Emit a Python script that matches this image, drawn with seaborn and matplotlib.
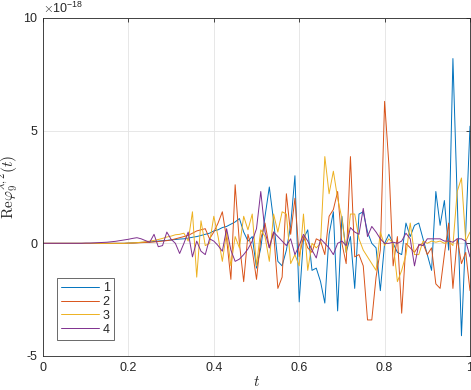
import numpy as np
import pandas as pd
import matplotlib
matplotlib.use("Agg")
import matplotlib.pyplot as plt
import seaborn as sns

# time grid (0 .. 1, step 0.01)
t = np.linspace(0, 1, 101)

# values in units of 1e-18
s1 = [0, 0, 0, 0, 0, 0, 0, 0, 0, 0,
      0, 0, 0, 0, 0, 0, 0, 0, 0, 0,
      0.01, 0.02, 0.03, 0.04, 0.05, 0.06, 0.08, 0.1, 0.12, 0.13,
      0.15, 0.17, 0.19, 0.2, 0.23, 0.27, 0.3, 0.35, 0.4, 0.45,
      0.55, 0.6, 0.7, 0.75, 0.85, 0.95, 1.1, 0.5, 0.1, 0.3,
      -1.1, -0.2, 1.2, 2.5, 1.0, -0.8, -1.0, -0.3, 0.8, 3.0,
      -2.6, 0.2, 0.6, -1.2, -1.1, -1.7, -2.65, 0.4, 1.4, -3.0,
      1.2, -0.4, 0.3, -2.0, 1.3, 1.4, 0.5, 0.0, -0.2, -2.1,
      0.0, 0.4, 0.0, -0.4, -0.5, 0.9, 0.3, 0.8, 0.9, 0.2,
      -0.5, -1.2, 2.3, 0.8, 1.9, -0.3, 8.2, 2.0, -4.1, 0.5,
      5.2]
s2 = [0, 0, 0, 0, 0, 0, 0, 0, 0, 0,
      0, 0, 0, 0, 0, 0, 0, 0, 0, 0,
      0.01, 0.01, 0.02, 0.03, 0.04, 0.05, 0.06, 0.08, 0.1, 0.12,
      0.15, 0.2, 0.25, 0.3, 0.35, 0.45, 0.55, 0.6, 0.65, 0.2,
      0.5, 0.9, 1.4, 0.2, -1.6, 2.6, 0.0, -1.7, 0.4, -0.3,
      -1.6, 0.2, 0.9, -0.2, 0.5, -2.0, -1.5, 2.2, 0.4, 2.0,
      -0.6, 0.3, -0.2, -0.4, 0.2, 0.1, -0.5, 1.2, 1.5, 2.3,
      0.0, -0.9, 3.85, -0.6, -0.5, -1.0, -3.4, -3.4, -1.5, -0.3,
      6.3, 3.5, -1.0, 0.3, -3.1, 0.0, -0.2, -0.4, -0.1, 0.0,
      -0.5, -0.2, -1.8, -2.0, -0.5, 0.9, -2.0, 0.2, -0.9, -0.4,
      -2.1]
s3 = [0, 0, 0, 0, 0, 0, 0, 0, 0, 0,
      0, 0, 0, 0, 0, 0, 0, 0, 0, 0,
      0.01, 0.02, 0.03, 0.05, 0.07, 0.1, 0.13, 0.17, 0.22, 0.28,
      0.32, 0.38, 0.4, 0.45, 0.1, 1.4, -1.5, 1.0, -0.1, 0.0,
      1.2, 0.3, -0.8, 0.5, -1.0, 0.3, -0.2, 1.2, 0.6, 1.3,
      -1.0, 0.6, 0.3, -0.8, 1.3, 0.5, 1.4, 1.3, -0.9, -0.5,
      -1.0, 1.3, -1.2, 0.0, -0.2, 0.0, 3.85, 2.2, 3.2, 2.0,
      1.1, -0.4, 1.3, 1.3, 0.2, -0.3, -0.6, -0.9, -1.2, 0.5,
      -0.1, 0.2, 0.0, -1.7, -1.2, -0.5, 0.9, -0.5, -0.5, 0.1,
      0.0, 0.1, 0.05, 0.1, 0.0, 0.1, -0.1, 2.3, 2.9, 0.1,
      0.5]
s4 = [0, 0, 0, 0, 0, 0, 0, 0, 0, 0,
      0.01, 0.01, 0.02, 0.03, 0.04, 0.05, 0.07, 0.09, 0.12, 0.15,
      0.18, 0.22, 0.25, 0.2, 0.12, 0.05, 0.4, -0.15, -0.1, 0.5,
      0.18, 0.0, -0.45, 0.0, 0.5, -0.6, 0.1, -0.35, -0.5, 0.2,
      0.1, -0.1, -0.35, 0.65, -0.3, -0.8, -0.7, -0.5, -0.25, 0.1,
      0.65, 2.3, 0.5, -0.2, 0.5, 0.3, 0.1, -0.1, 0.2, -0.5,
      -0.1, 0.4, 0.1, -0.3, -0.65, 0.2, 0.0, -0.2, -0.5, 0.0,
      0.1, -0.1, 0.7, 0.5, 0.4, 1.55, 0.3, 0.75, 0.5, 0.2,
      0.0, 0.0, 0.05, 0.0, 0.1, 0.45, 0.2, -1.0, -0.05, -0.1,
      0.2, 0.2, 0.2, 0.2, 0.1, 0.1, 0.05, 0.2, 0.2, 0.1,
      -0.6]

series_names = ["1", "2", "3", "4"]
colors = ["#0072BD", "#D95319", "#EDB120", "#7E2F8E"]

frames = []
for name, vals in zip(series_names, [s1, s2, s3, s4]):
    frames.append(pd.DataFrame({"t": t, "value": np.array(vals) * 1e-18, "series": name}))
df = pd.concat(frames, ignore_index=True)

sns.set_theme(style="whitegrid")
plt.rcParams["font.family"] = ["Liberation Sans", "DejaVu Sans"]
plt.rcParams["mathtext.fontset"] = "cm"
plt.rcParams["axes.unicode_minus"] = False

fig = plt.figure(figsize=(4.71, 3.9), dpi=100)
ax = fig.add_axes([43 / 471, 1 - 356 / 390, 427 / 471, 338 / 390])

sns.lineplot(data=df, x="t", y="value", hue="series", palette=colors,
             linewidth=0.7, ax=ax, estimator=None, sort=False)

ax.set_xlim(0, 1)
ax.set_ylim(-5e-18, 10e-18)
ax.set_xticks([0, 0.2, 0.4, 0.6, 0.8, 1])
ax.set_xticklabels(["0", "0.2", "0.4", "0.6", "0.8", "1"])
ax.set_yticks([-5e-18, 0, 5e-18, 10e-18])
ax.set_yticklabels(["-5", "0", "5", "10"])
ax.text(0.0, 1.005, r"$\times\mathregular{10^{-18}}$", transform=ax.transAxes,
        ha="left", va="bottom", fontsize=9, color="#262626")

ax.grid(True, color="#e3e3e3", linewidth=0.6)
ax.set_facecolor("white")
for sp in ax.spines.values():
    sp.set_color("#262626")
    sp.set_linewidth(0.6)
ax.tick_params(direction="in", length=3, width=0.6, colors="#262626",
               labelsize=9, top=True, right=True, pad=4)

ax.set_xlabel(r"$t$", fontsize=11, labelpad=1)
ax.set_ylabel(r"$\mathrm{Re}\varphi_9^{\lambda,2}(t)$", fontsize=11)
ax.yaxis.set_label_coords(-0.054, 0.5)

leg = ax.legend(loc="lower left", bbox_to_anchor=(0.033, 0.047), borderaxespad=0,
                frameon=True, fontsize=9, handlelength=3.0, handletextpad=0.3,
                borderpad=0.35, labelspacing=0.15, fancybox=False)
leg.get_frame().set_edgecolor("#262626")
leg.get_frame().set_linewidth(0.6)
leg.set_title(None)

fig.savefig("out.png", dpi=100, facecolor="white")
